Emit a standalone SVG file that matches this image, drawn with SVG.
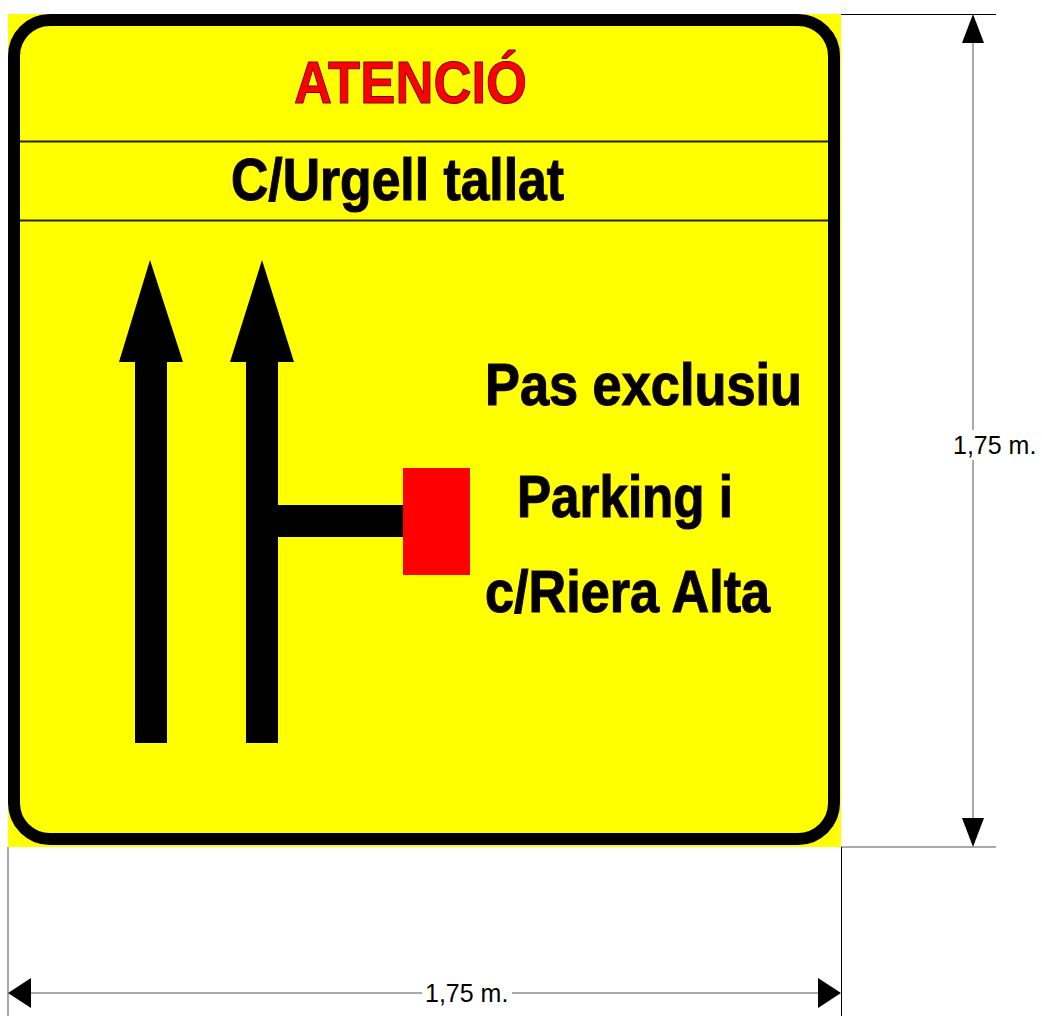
<svg xmlns="http://www.w3.org/2000/svg" width="1042" height="1016" viewBox="0 0 1042 1016">
  <style>
    .sign { font-family: "Liberation Sans", Arial, sans-serif; font-weight: bold; font-size: 60px; fill: #000; stroke: #1a0030; stroke-width: 1.2; }
    .title { fill: #ff0000; stroke: #700020; stroke-width: 1; }
    .dim { font-family: "Liberation Sans", Arial, sans-serif; font-size: 25px; fill: #000; }
    .dl { stroke: #555; stroke-width: 1; fill: none; }
    .ext { stroke: #000; stroke-width: 1; fill: none; }
  </style>
  <rect width="1042" height="1016" fill="#fff"/>
  <g id="sign">
    <rect x="8" y="14" width="833" height="833" fill="#ffff00"/>
    <rect x="14" y="20" width="820" height="819" rx="36" ry="36" fill="none" stroke="#000" stroke-width="12"/>
    <line x1="20" y1="141.5" x2="828" y2="141.5" stroke="#222" stroke-width="2"/>
    <line x1="20" y1="220.5" x2="828" y2="220.5" stroke="#222" stroke-width="2"/>
  </g>
  <g id="title">
    <text class="sign title" x="294" y="103" textLength="233" lengthAdjust="spacingAndGlyphs">ATENCIÓ</text>
  </g>
  <g id="street">
    <text class="sign" x="231" y="200" textLength="333" lengthAdjust="spacingAndGlyphs">C/Urgell tallat</text>
  </g>
  <g id="arrow-left">
    <polygon points="150,260 183,362 167,362 167,743 135,743 135,362 119,362" fill="#000"/>
  </g>
  <g id="arrow-right">
    <polygon points="262,260 294,362 278,362 278,743 246,743 246,362 230,362" fill="#000"/>
  </g>
  <g id="connectors">
    <rect x="277" y="505" width="127" height="32" fill="#000"/>
  </g>
  <g id="red-box">
    <rect x="403" y="468" width="67" height="107" fill="#ff0000"/>
  </g>
  <g id="info">
    <text class="sign" x="485" y="405" textLength="317" lengthAdjust="spacingAndGlyphs">Pas exclusiu</text>
    <text class="sign" x="517" y="517" textLength="216" lengthAdjust="spacingAndGlyphs">Parking i</text>
    <text class="sign" x="485" y="612" textLength="285" lengthAdjust="spacingAndGlyphs">c/Riera Alta</text>
  </g>
  <g id="dimension-vertical">
    <line class="ext" x1="841" y1="14.5" x2="996" y2="14.5"/>
    <line class="dl" x1="841" y1="847" x2="996" y2="847"/>
    <line class="dl" x1="973" y1="40" x2="973" y2="430"/>
    <line class="dl" x1="973" y1="460" x2="973" y2="820"/>
    <polygon points="973,14 984,43 962,43" fill="#000"/>
    <polygon points="973,847 984,818 962,818" fill="#000"/>
    <text class="dim" x="953" y="454">1,75 m.</text>
  </g>
  <g id="dimension-horizontal">
    <line class="dl" x1="8" y1="847" x2="8" y2="1016"/>
    <line class="ext" x1="841.5" y1="847" x2="841.5" y2="1016"/>
    <line class="dl" x1="30" y1="993" x2="422" y2="993"/>
    <line class="dl" x1="512" y1="993" x2="820" y2="993"/>
    <polygon points="8,993 31,978 31,1008" fill="#000"/>
    <polygon points="841,993 818,978 818,1008" fill="#000"/>
    <text class="dim" x="425" y="1002">1,75 m.</text>
  </g>
</svg>
